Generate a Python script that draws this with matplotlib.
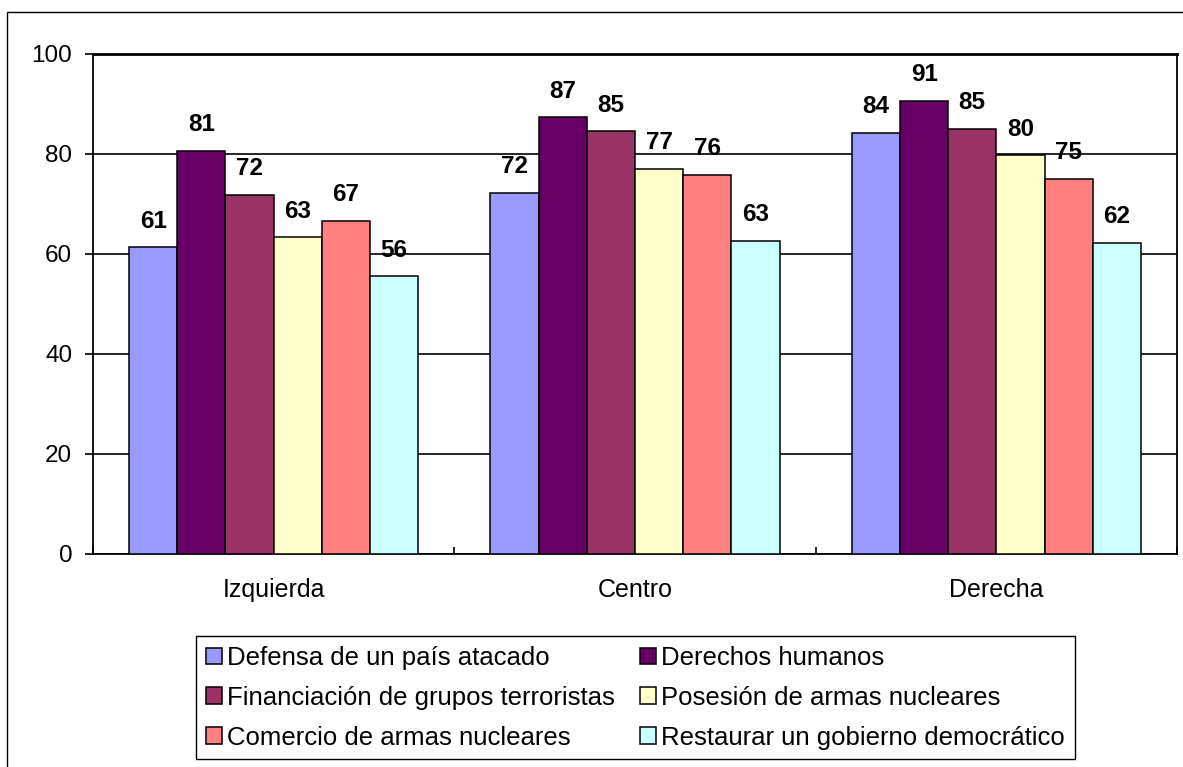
import matplotlib
matplotlib.use("Agg")
import matplotlib.pyplot as plt
import matplotlib.patches as mpatches
import numpy as np

plt.rcParams["font.family"] = ["Liberation Sans", "DejaVu Sans"]

categories = ["Izquierda", "Centro", "Derecha"]
series_names = [
    "Defensa de un país atacado",
    "Derechos humanos",
    "Financiación de grupos terroristas",
    "Posesión de armas nucleares",
    "Comercio de armas nucleares",
    "Restaurar un gobierno democrático",
]
# one list per series, values for Izquierda / Centro / Derecha
defensa = [61.4, 72.3, 84.3]
derechos = [80.7, 87.4, 90.7]
financiacion = [71.9, 84.6, 85.1]
posesion = [63.4, 77.1, 79.8]
comercio = [66.7, 75.9, 75.1]
restaurar = [55.6, 62.7, 62.3]
colors = ["#9999FF", "#660066", "#993366", "#FFFFCC", "#FF8080", "#CCFFFF"]

series = [defensa, derechos, financiacion, posesion, comercio, restaurar]

W, H = 1183, 767
fig = plt.figure(figsize=(W / 100, H / 100), dpi=100)
ax = fig.add_axes([93 / W, 1 - 554 / H, (1177 - 93) / W, (554 - 54) / H])

# outer chart frame
fig.patches.append(mpatches.Rectangle(
    (7 / W, -0.1), 1.2, 1.1 - 12 / H, transform=fig.transFigure,
    fill=False, edgecolor="black", linewidth=1.0, clip_on=False))

x = np.arange(len(categories))
n = len(series)
width = 1.0 / (n + 1.5)

handles = []
for i, (vals, name, col) in enumerate(zip(series, series_names, colors)):
    pos = x + (i - (n - 1) / 2) * width
    bars = ax.bar(pos, vals, width=width, color=col, edgecolor="black",
                  linewidth=1.1, label=name, zorder=3)
    handles.append(bars)
    for b, v in zip(bars, vals):
        ax.annotate(f"{int(round(v))}", (b.get_x() + b.get_width() / 2, v),
                    xytext=(0, 14), textcoords="offset points",
                    ha="center", va="baseline", fontsize=17.5,
                    fontweight="bold", zorder=4)

ax.set_xlim(-0.5, len(categories) - 0.5)
ax.set_ylim(0, 100)
ax.set_yticks(range(0, 101, 20))
ax.yaxis.grid(True, color="black", linewidth=1.2, zorder=0)
ax.tick_params(axis="y", direction="out", length=6, width=1.2,
               labelsize=17.5, pad=9)

ax.set_xticks(np.arange(-0.5, len(categories), 1.0))
ax.set_xticklabels([])
ax.tick_params(axis="x", which="major", direction="in", length=5, width=1.2)
ax.set_xticks(x, minor=True)
ax.set_xticklabels(categories, minor=True)
ax.tick_params(axis="x", which="minor", length=0, labelsize=18, pad=17)

for s in ax.spines.values():
    s.set_color("black")
    s.set_linewidth(1.3)
ax.spines["top"].set_linewidth(2)

# legend is filled row by row, matplotlib fills by column
order = [0, 2, 4, 1, 3, 5]
leg = ax.legend([handles[i] for i in order], [series_names[i] for i in order],
                loc="upper left", bbox_to_anchor=(196 / W, 1 - 636 / H),
                bbox_transform=fig.transFigure, ncol=2, fontsize=18.5,
                frameon=True, fancybox=False, framealpha=1,
                edgecolor="black", handlelength=0.62, handleheight=0.6,
                handletextpad=0.2, columnspacing=1.0, labelspacing=0.62,
                borderpad=0.38, borderaxespad=0)
leg.get_frame().set_linewidth(1.0)

plt.savefig("out.png", dpi=100)
plt.close()
